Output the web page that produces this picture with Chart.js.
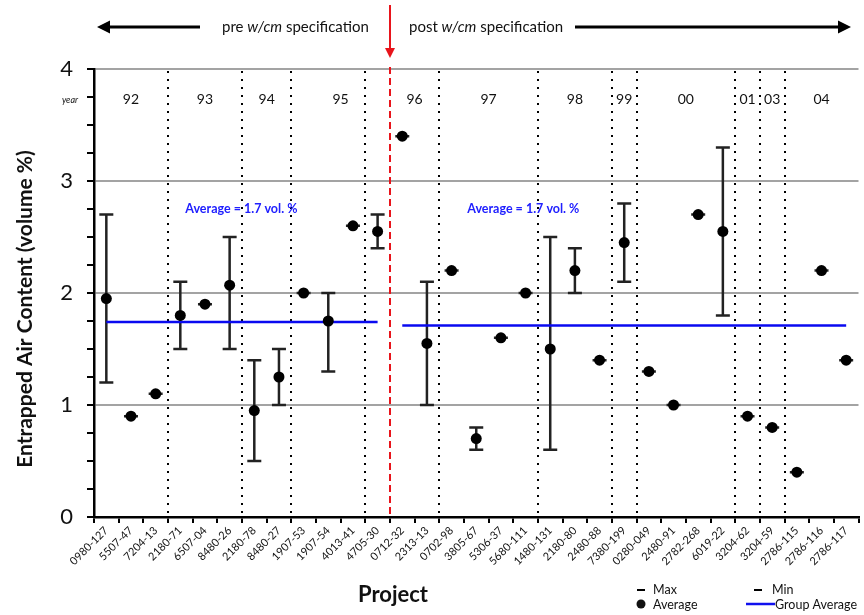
<!DOCTYPE html>
<html>
<head>
<meta charset="utf-8">
<script src="https://cdn.jsdelivr.net/npm/chart.js@4.4.0/dist/chart.umd.min.js"></script>
<style>
html, body { margin: 0; padding: 0; background: #fff; }
#wrap { width: 864px; height: 615px; position: relative; }
</style>
</head>
<body>
<div id="wrap"><canvas id="air-chart"></canvas></div>
<script>
// project ids along the x axis
const projects = ['0980-127','5507-47','7204-13','2180-71','6507-04','8480-26','2180-78','8480-27',
  '1907-53','1907-54','4013-41','4705-30','0712-32','2313-13','0702-98','3805-67','5306-37',
  '5680-111','1480-131','2180-80','2480-88','7380-199','0280-049','2480-91','2782-268','6019-22',
  '3204-62','3204-59','2786-115','2786-116','2786-117']

// entrapped air, volume %
const avgAir = [1.95,0.90,1.10,1.80,1.90,2.07,0.95,1.25,2.00,1.75,2.60,2.55,3.40,1.55,2.20,0.70,
  1.60,2.00,1.50,2.20,1.40,2.45,1.30,1.00,2.70,2.55,0.90,0.80,0.40,2.20,1.40]
const maxAir = [2.70,0.90,1.10,2.10,1.90,2.50,1.40,1.50,2.00,2.00,2.60,2.70,3.40,2.10,2.20,0.80,
  1.60,2.00,2.50,2.40,1.40,2.80,1.30,1.00,2.70,3.30,0.90,0.80,0.40,2.20,1.40]
const minAir = [1.20,0.90,1.10,1.50,1.90,1.50,0.50,1.00,2.00,1.30,2.60,2.40,3.40,1.00,2.20,0.60,
  1.60,2.00,0.60,2.00,1.40,2.10,1.30,1.00,2.70,1.80,0.90,0.80,0.40,2.20,1.40]

// group averages before / after the w/cm spec
const preAvg = 1.74
const postAvg = 1.71
const specBreak = 12   // first project after the spec change

// year groups: label + index of first project in the group
const yearNames = ['92','93','94','95','96','97','98','99','00','01','03','04']
const yearStarts = [0,3,6,8,12,14,18,21,22,26,27,28]
// dotted separators (index of project right of the line)
const dividers = [3,6,8,11,14,18,21,22,26,27,28]

const yTicks = [0,1,2,3,4]

const preLine = projects.map((p, i) => i < specBreak ? preAvg : null)
const postLine = projects.map((p, i) => i >= specBreak ? postAvg : null)

const FONT = 'Lato, "Open Sans", sans-serif'

function boundaryX(x, k){
    // pixel between project k-1 and k
    if(k <= 0) return x.left
    if(k >= projects.length) return x.right
    return (x.getPixelForValue(k - 1) + x.getPixelForValue(k)) / 2
}

function arrow(ctx, x1, y1, x2, y2, head, color){
    const ang = Math.atan2(y2 - y1, x2 - x1)
    ctx.strokeStyle = color
    ctx.fillStyle = color
    ctx.beginPath()
    ctx.moveTo(x1, y1)
    ctx.lineTo(x2 - Math.cos(ang) * head, y2 - Math.sin(ang) * head)
    ctx.stroke()
    ctx.beginPath()
    ctx.moveTo(x2, y2)
    ctx.lineTo(x2 - Math.cos(ang) * head - Math.sin(ang) * head * 0.5, y2 - Math.sin(ang) * head + Math.cos(ang) * head * 0.5)
    ctx.lineTo(x2 - Math.cos(ang) * head + Math.sin(ang) * head * 0.5, y2 - Math.sin(ang) * head - Math.cos(ang) * head * 0.5)
    ctx.closePath()
    ctx.fill()
}

// year separators, spec line and min/max bars go under the dots
const underlay = {
    id: 'underlay',
    beforeDatasetsDraw(chart){
        const ctx = chart.ctx
        const x = chart.scales.x
        const y = chart.scales.y
        const area = chart.chartArea
        ctx.save()

        ctx.strokeStyle = '#000'
        ctx.lineWidth = 2
        ctx.setLineDash([2, 6])
        dividers.forEach(k => {
            const px = Math.round(boundaryX(x, k))
            ctx.beginPath()
            ctx.moveTo(px, area.top + 2)
            ctx.lineTo(px, area.bottom - 4)
            ctx.stroke()
        })

        // spec change
        const sx = Math.round(boundaryX(x, specBreak))
        ctx.strokeStyle = '#e8141b'
        ctx.setLineDash([7, 4])
        ctx.beginPath()
        ctx.moveTo(sx, area.top - 2)
        ctx.lineTo(sx, area.bottom)
        ctx.stroke()
        ctx.setLineDash([])
        arrow(ctx, sx, 5, sx, 58, 10, '#e8141b')

        // min / max bars
        ctx.strokeStyle = '#222'
        ctx.lineWidth = 2.5
        projects.forEach((p, i) => {
            const px = x.getPixelForValue(i)
            const top = y.getPixelForValue(maxAir[i])
            const bot = y.getPixelForValue(minAir[i])
            ctx.beginPath()
            ctx.moveTo(px, top)
            ctx.lineTo(px, bot)
            ctx.moveTo(px - 7, top)
            ctx.lineTo(px + 7, top)
            ctx.moveTo(px - 7, bot)
            ctx.lineTo(px + 7, bot)
            ctx.stroke()
        })
        ctx.restore()
    },
    afterDraw(chart){
        const ctx = chart.ctx
        const x = chart.scales.x
        const y = chart.scales.y
        const area = chart.chartArea
        ctx.save()

        // y axis tick marks
        ctx.strokeStyle = '#000'
        ctx.lineWidth = 2
        for(let v = 0; v <= 4; v += 0.25){
            const py = Math.round(y.getPixelForValue(v))
            ctx.beginPath()
            ctx.moveTo(area.left - 7, py)
            ctx.lineTo(area.left, py)
            ctx.stroke()
        }

        // axis titles
        ctx.fillStyle = '#111'
        ctx.textAlign = 'center'
        ctx.textBaseline = 'middle'
        ctx.font = 'bold 22px ' + FONT
        ctx.fillText('Project', 393, 595)
        ctx.save()
        ctx.translate(25, 309)
        ctx.rotate(-Math.PI / 2)
        ctx.font = 'bold 21px ' + FONT
        ctx.fillText('Entrapped Air Content (volume %)', 0, 0)
        ctx.restore()

        // year labels
        ctx.font = '14px ' + FONT
        yearNames.forEach((name, g) => {
            const a = boundaryX(x, yearStarts[g])
            const b = boundaryX(x, g + 1 < yearStarts.length ? yearStarts[g + 1] : projects.length)
            ctx.fillText(name, (a + b) / 2, 99)
        })
        ctx.font = 'italic 9px ' + FONT
        ctx.fillText('year', 70, 100)

        // group average notes
        ctx.fillStyle = '#2020ff'
        ctx.font = 'bold 12.5px ' + FONT
        ctx.textAlign = 'left'
        ctx.fillText('Average = 1.7 vol. %', x.getPixelForValue(3) + 5, 209)
        ctx.fillText('Average = 1.7 vol. %', x.getPixelForValue(15) - 9, 209)

        // spec arrows along the top
        ctx.lineWidth = 3
        arrow(ctx, 200, 27, 97, 27, 13, '#000')
        arrow(ctx, 575, 27, 851, 27, 13, '#000')
        ctx.fillStyle = '#111'
        function mixed(parts, x0){
            const fonts = ['15px ' + FONT, 'italic 15px ' + FONT, '15px ' + FONT]
            let px = x0
            ctx.textAlign = 'left'
            parts.forEach((s, j) => {
                ctx.font = fonts[j]
                ctx.fillText(s, px, 27)
                px += ctx.measureText(s).width
            })
        }
        mixed(['pre ', 'w/cm', ' specification'], 222)
        mixed(['post ', 'w/cm', ' specification'], 409)

        // legend
        ctx.font = '12.5px ' + FONT
        ctx.fillStyle = '#111'
        ctx.strokeStyle = '#000'
        ctx.lineWidth = 2
        ctx.beginPath()
        ctx.moveTo(637, 590); ctx.lineTo(645, 590)
        ctx.moveTo(754, 590); ctx.lineTo(762, 590)
        ctx.stroke()
        ctx.fillText('Max', 653, 590)
        ctx.fillText('Min', 772, 590)
        ctx.beginPath()
        ctx.arc(641, 604, 4.5, 0, Math.PI * 2)
        ctx.fill()
        ctx.fillText('Average', 653, 605)
        ctx.strokeStyle = '#1010ee'
        ctx.lineWidth = 2.5
        ctx.beginPath()
        ctx.moveTo(746, 604); ctx.lineTo(775, 604)
        ctx.stroke()
        ctx.fillText('Group Average', 775, 605)

        ctx.restore()
    }
}

new Chart(document.getElementById('air-chart'), {
    data: {
        labels: projects,
        datasets: [
            {
                type: 'line',
                label: 'Average',
                data: avgAir,
                showLine: false,
                pointRadius: 5.5,
                pointHoverRadius: 5.5,
                pointBackgroundColor: '#000',
                pointBorderWidth: 0,
                order: 0
            },
            {
                type: 'line',
                label: 'Group Average',
                data: preLine,
                borderColor: '#0a0af0',
                borderWidth: 2.5,
                pointRadius: 0,
                spanGaps: false,
                order: 1
            },
            {
                type: 'line',
                label: 'Group Average post',
                data: postLine,
                borderColor: '#0a0af0',
                borderWidth: 2.5,
                pointRadius: 0,
                spanGaps: false,
                order: 1
            }
        ]
    },
    options: {
        responsive: true,
        maintainAspectRatio: false,
        animation: false,
        events: [],
        layout: { padding: { top: 69, right: 2, left: 0, bottom: 0 } },
        plugins: { legend: { display: false }, tooltip: { enabled: false } },
        scales: {
            x: {
                type: 'category',
                offset: true,
                afterFit(scale){ scale.height = 98 },
                grid: {
                    offset: true,
                    drawOnChartArea: false,
                    drawTicks: true,
                    tickLength: 6,
                    color: '#000',
                    lineWidth: 2
                },
                border: { display: true, color: '#000', width: 2.5 },
                ticks: {
                    autoSkip: false,
                    maxRotation: 45,
                    minRotation: 45,
                    padding: 1,
                    color: '#111',
                    font: { family: FONT, size: 11 }
                }
            },
            y: {
                min: 0,
                max: 4,
                afterFit(scale){ scale.width = 94 },
                afterBuildTicks(scale){
                    const t = []
                    for(let v = 0; v <= 4; v += 0.25) t.push({ value: v })
                    scale.ticks = t
                },
                grid: {
                    drawTicks: false,
                    lineWidth: 2,
                    color: c => (yTicks.includes(c.tick.value) && c.tick.value > 0) ? '#a3a3a3' : 'rgba(0,0,0,0)'
                },
                border: { display: true, color: '#000', width: 2.5 },
                ticks: {
                    padding: 21,
                    color: '#111',
                    font: { family: FONT, size: 22 },
                    callback: v => yTicks.includes(v) ? String(v) : ''
                }
            }
        }
    },
    plugins: [underlay]
})
</script>
</body>
</html>
